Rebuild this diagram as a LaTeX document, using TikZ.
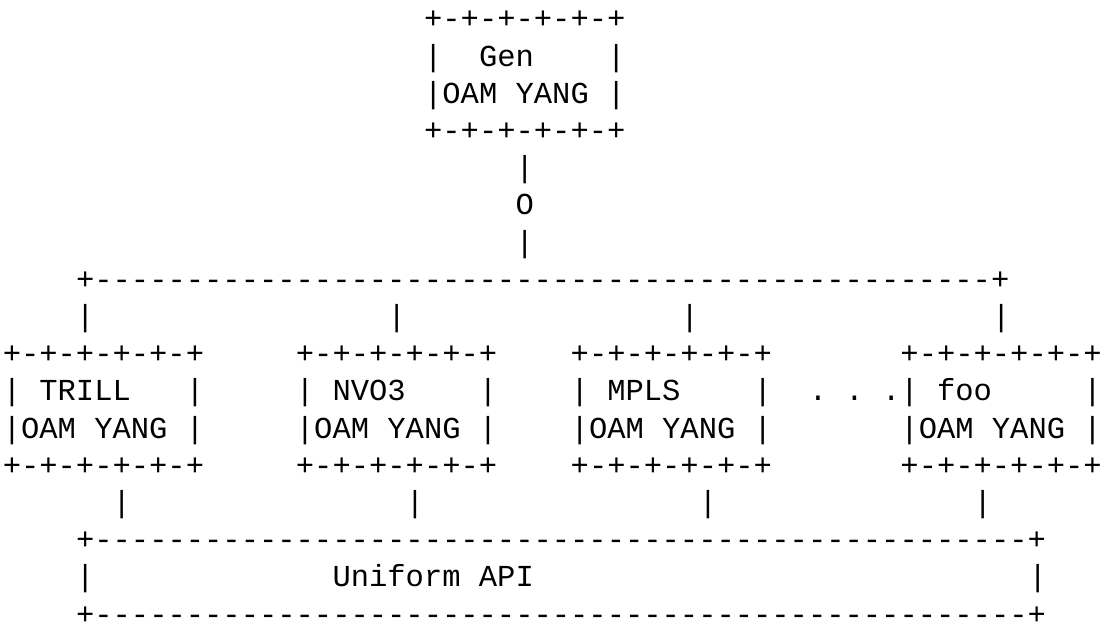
\documentclass[tikz,border=0pt]{standalone}
\usepackage{fontspec}
\setmonofont{Liberation Mono}
\usepackage{tikz}
\tikzstyle{Glyphs}=[anchor=base west,inner sep=0pt,outer sep=0pt,
font=\ttfamily\fontsize{30.5}{37.2}\selectfont]
\tikzstyle{Link}=[Glyphs]
\begin{document}
\begin{tikzpicture}[x=18.32pt,y=-37.2pt]
        \useasboundingbox(-0.153,-0.7796)rectangle(60.33,16.183);
        % generic model
        \node[Glyphs](GenTop)at(23,0){+-+-+-+-+-+};
        \node[Glyphs](GenName)at(23,1){|~~Gen~~~~|};
        \node[Glyphs](GenOam)at(23,2){|OAM~YANG~|};
        \node[Glyphs](GenBot)at(23,3){+-+-+-+-+-+};
        \node[Link](Stem1)at(28,4){|};
        \node[Link](Joint)at(28,5){O};
        \node[Link](Stem2)at(28,6){|};
        \node[Link](Bus)at(4,7){+----------%
----------%
----------%
----------%
---------+};
        \node[Link](Drop1)at(4,8){|};
        \node[Link](Drop2)at(21,8){|};
        \node[Link](Drop3)at(37,8){|};
        \node[Link](Drop4)at(54,8){|};
        % technology models
        \node[Glyphs](TrillTop)at(0,9){+-+-+-+-+-+};
        \node[Glyphs](TrillName)at(0,10){|~TRILL~~~|};
        \node[Glyphs](TrillOam)at(0,11){|OAM~YANG~|};
        \node[Glyphs](TrillBot)at(0,12){+-+-+-+-+-+};
        \node[Glyphs](NvoTop)at(16,9){+-+-+-+-+-+};
        \node[Glyphs](NvoName)at(16,10){|~NVO3~~~~|};
        \node[Glyphs](NvoOam)at(16,11){|OAM~YANG~|};
        \node[Glyphs](NvoBot)at(16,12){+-+-+-+-+-+};
        \node[Glyphs](MplsTop)at(31,9){+-+-+-+-+-+};
        \node[Glyphs](MplsName)at(31,10){|~MPLS~~~~|};
        \node[Glyphs](MplsOam)at(31,11){|OAM~YANG~|};
        \node[Glyphs](MplsBot)at(31,12){+-+-+-+-+-+};
        \node[Glyphs](Dots)at(44,10){.~.~.};
        \node[Glyphs](FooTop)at(49,9){+-+-+-+-+-+};
        \node[Glyphs](FooName)at(49,10){|~foo~~~~~|};
        \node[Glyphs](FooOam)at(49,11){|OAM~YANG~|};
        \node[Glyphs](FooBot)at(49,12){+-+-+-+-+-+};
        \node[Link](Leg1)at(6,13){|};
        \node[Link](Leg2)at(22,13){|};
        \node[Link](Leg3)at(38,13){|};
        \node[Link](Leg4)at(53,13){|};
        % common API
        \node[Glyphs](ApiTop)at(4,14){+----------%
----------%
----------%
----------%
----------%
-+};
        \node[Glyphs](ApiLeft)at(4,15){|};
        \node[Glyphs](ApiName)at(18,15){Uniform~API};
        \node[Glyphs](ApiRight)at(56,15){|};
        \node[Glyphs](ApiBot)at(4,16){+----------%
----------%
----------%
----------%
----------%
-+};
    \end{tikzpicture}
\end{document}
